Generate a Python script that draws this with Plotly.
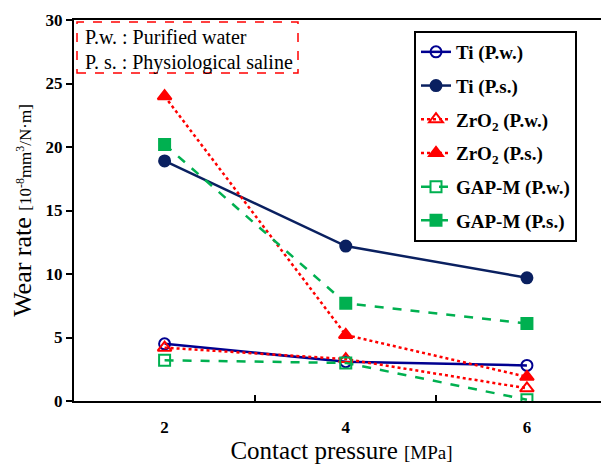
import plotly.graph_objects as go

pressure = [2, 4, 6]
ti_pw = [4.5, 3.1, 2.8]
ti_ps = [18.9, 12.2, 9.7]
zro2_pw = [4.2, 3.3, 1.0]
zro2_ps = [24.0, 5.2, 1.9]
gap_pw = [3.2, 3.0, 0.1]
gap_ps = [20.2, 7.7, 6.1]

# page body adds an 8px offset; target coordinates below are in screenshot pixels
OFF = 8
W, H = 609 - OFF, 464 - OFF
ML, MR, MT, MB = 74 - OFF, 0, 20 - OFF, 63
PW, PH = W - ML - MR, H - MT - MB

def px(x):
    return (x - OFF - ML) / PW

def py(y):
    return 1 - (y - OFF - MT) / PH

serif = "Liberation Serif"

fig = go.Figure()

def add(name, y, color, dash, symbol, msize, group):
    fig.add_trace(go.Scatter(
        x=pressure, y=y, name=name, mode="lines+markers",
        line=dict(color=color, width=2.5, dash=dash),
        marker=dict(symbol=symbol, size=msize, color=color,
                    line=dict(color=color, width=2)),
        legendgroup=group,
    ))

add("Ti (P.w.)", ti_pw, "#000090", "solid", "circle-open", 11, "a")
add("Ti (P.s.)", ti_ps, "#0a2060", "solid", "circle", 11, "b")
add("ZrO<sub>2</sub> (P.w.)", zro2_pw, "#ff0000", "dot", "triangle-up-open", 12, "c")
add("ZrO<sub>2</sub> (P.s.)", zro2_ps, "#ff0000", "dot", "triangle-up", 12, "d")
add("GAP-M (P.w.)", gap_pw, "#00b050", "dash", "square-open", 11, "e")
add("GAP-M (P.s.)", gap_ps, "#00b050", "dash", "square", 11, "f")

fig.update_layout(
    width=W, height=H,
    margin=dict(l=ML, r=MR, t=MT, b=MB, autoexpand=False),
    paper_bgcolor="white", plot_bgcolor="white",
    font=dict(family=serif, color="black"),
    showlegend=True,
    legend=dict(
        x=px(414), y=py(31), xanchor="left", yanchor="top",
        bordercolor="black", borderwidth=2, bgcolor="white",
        font=dict(family=serif, size=19, color="black", weight="bold"),
        tracegroupgap=6, traceorder="grouped",
    ),
    xaxis=dict(
        automargin=False,
        range=[1, 6.906], tickvals=[2, 4, 6], ticktext=["2", "4", "6"],
        ticks="", showgrid=False, zeroline=False, ticklabelstandoff=10,
        showline=True, linecolor="black", linewidth=2, mirror=True,
        tickfont=dict(family=serif, size=17, weight="bold"),
        minor=dict(tickvals=[3, 5], ticks="inside", ticklen=6, tickwidth=1.5, tickcolor="black"),
        title=dict(text="Contact pressure <span style='font-size:19px'>[MPa]</span>",
                   font=dict(family=serif, size=25), standoff=10),
    ),
    yaxis=dict(
        automargin=False,
        range=[0, 30], tickvals=[0, 5, 10, 15, 20, 25, 30],
        ticks="outside", ticklen=6, tickwidth=1.5, tickcolor="black",
        showgrid=False, zeroline=False,
        showline=True, linecolor="black", linewidth=2, mirror=False,
        tickfont=dict(family=serif, size=17, weight="bold"),
        title=dict(text="Wear rate <span style='font-size:17px'>[10<sup>-8</sup>mm<sup>3</sup>/N·m]</span>",
                   font=dict(family=serif, size=26), standoff=6),
    ),
)

fig.add_shape(type="rect", xref="paper", yref="paper",
              x0=px(77), x1=px(298), y0=py(73), y1=py(22),
              line=dict(color="#ff0000", width=1.5, dash="dash"),
              fillcolor="white", layer="above")
fig.add_annotation(xref="paper", yref="paper", x=px(83), y=py(37),
                   xanchor="left", yanchor="middle", showarrow=False,
                   text="P.w. : Purified water",
                   font=dict(family=serif, size=20, color="black"))
fig.add_annotation(xref="paper", yref="paper", x=px(83), y=py(62),
                   xanchor="left", yanchor="middle", showarrow=False,
                   text="P. s. : Physiological saline",
                   font=dict(family=serif, size=20, color="black"))

fig.write_html("out.html")
